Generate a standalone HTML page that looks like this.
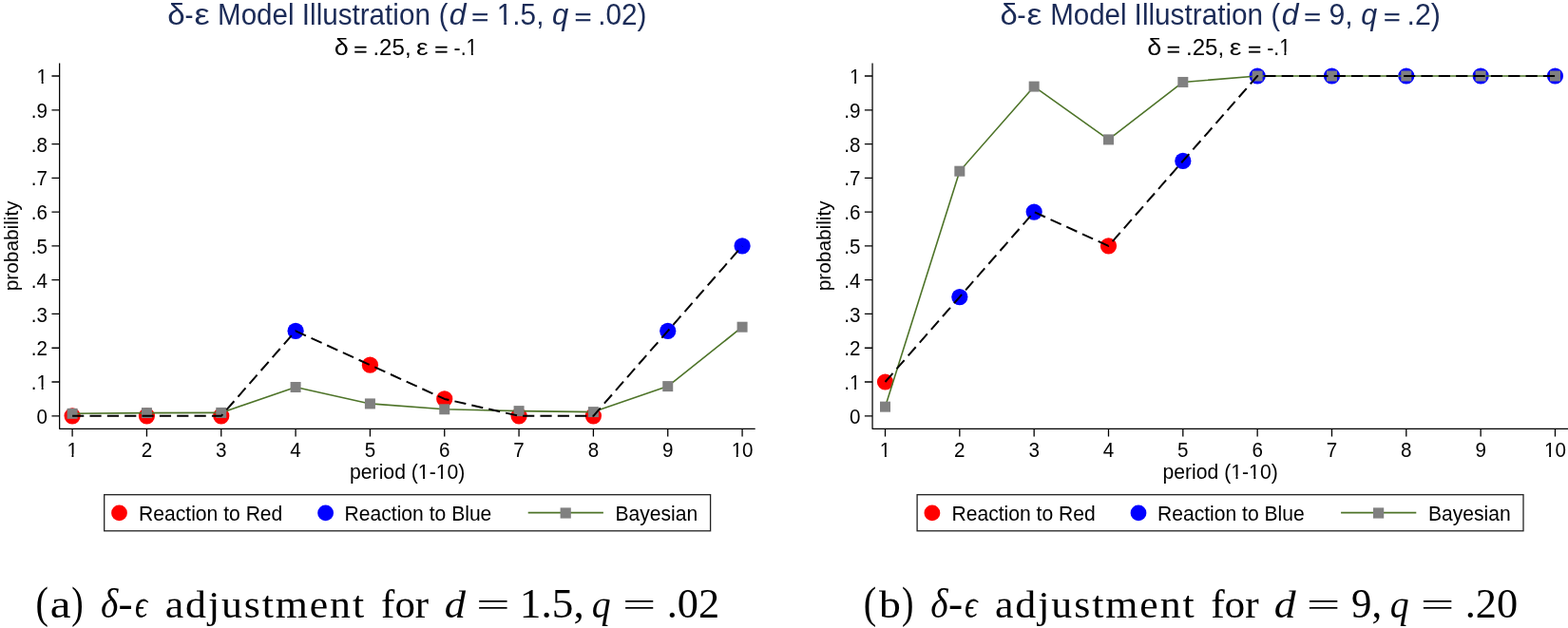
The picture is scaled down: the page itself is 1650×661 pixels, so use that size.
<!DOCTYPE html>
<html><head><meta charset="utf-8"><title>δ-ε Model Illustration</title><style>
html,body{margin:0;padding:0;background:#fff;}
svg{display:block;}
text{font-family:"Liberation Sans",sans-serif;fill:#000;}
.tk{font-size:20.6px;}
.at{font-size:21.2px;}
.pr{font-size:20.8px;}
.lg{font-size:21.1px;}
</style></head><body>
<svg width="1650" height="661" viewBox="0 0 1650 661">
<rect width="1650" height="661" fill="#fff"/>
<path d="M62.65 66.40V451.30H794.70" fill="none" stroke="#000" stroke-width="1.25" stroke-linejoin="round"/>
<path d="M54.45 437.80H62.65M54.45 402.02H62.65M54.45 366.24H62.65M54.45 330.46H62.65M54.45 294.68H62.65M54.45 258.90H62.65M54.45 223.12H62.65M54.45 187.34H62.65M54.45 151.56H62.65M54.45 115.78H62.65M54.45 80.00H62.65M76.10 451.30V459.50M154.43 451.30V459.50M232.76 451.30V459.50M311.09 451.30V459.50M389.42 451.30V459.50M467.75 451.30V459.50M546.08 451.30V459.50M624.41 451.30V459.50M702.74 451.30V459.50M781.07 451.30V459.50" fill="none" stroke="#000" stroke-width="1.3"/>
<text transform="translate(50.05 445.90) scale(1 1.09)" text-anchor="end" class="tk">0</text>
<text transform="translate(50.05 410.12) scale(1 1.09)" text-anchor="end" class="tk">.1</text>
<text transform="translate(50.05 374.34) scale(1 1.09)" text-anchor="end" class="tk">.2</text>
<text transform="translate(50.05 338.56) scale(1 1.09)" text-anchor="end" class="tk">.3</text>
<text transform="translate(50.05 302.78) scale(1 1.09)" text-anchor="end" class="tk">.4</text>
<text transform="translate(50.05 267.00) scale(1 1.09)" text-anchor="end" class="tk">.5</text>
<text transform="translate(50.05 231.22) scale(1 1.09)" text-anchor="end" class="tk">.6</text>
<text transform="translate(50.05 195.44) scale(1 1.09)" text-anchor="end" class="tk">.7</text>
<text transform="translate(50.05 159.66) scale(1 1.09)" text-anchor="end" class="tk">.8</text>
<text transform="translate(50.05 123.88) scale(1 1.09)" text-anchor="end" class="tk">.9</text>
<text transform="translate(50.05 88.10) scale(1 1.09)" text-anchor="end" class="tk">1</text>
<text transform="translate(76.10 480.80) scale(1 1.09)" text-anchor="middle" class="tk">1</text>
<text transform="translate(154.43 480.80) scale(1 1.09)" text-anchor="middle" class="tk">2</text>
<text transform="translate(232.76 480.80) scale(1 1.09)" text-anchor="middle" class="tk">3</text>
<text transform="translate(311.09 480.80) scale(1 1.09)" text-anchor="middle" class="tk">4</text>
<text transform="translate(389.42 480.80) scale(1 1.09)" text-anchor="middle" class="tk">5</text>
<text transform="translate(467.75 480.80) scale(1 1.09)" text-anchor="middle" class="tk">6</text>
<text transform="translate(546.08 480.80) scale(1 1.09)" text-anchor="middle" class="tk">7</text>
<text transform="translate(624.41 480.80) scale(1 1.09)" text-anchor="middle" class="tk">8</text>
<text transform="translate(702.74 480.80) scale(1 1.09)" text-anchor="middle" class="tk">9</text>
<text transform="translate(781.07 480.80) scale(1 1.09)" text-anchor="middle" class="tk">10</text>
<text transform="translate(428.68 503.70) scale(1 1.04)" text-anchor="middle" class="at">period (1-10)</text>
<text transform="translate(18.60 258.85) rotate(-90) scale(1 1.0)" text-anchor="middle" class="pr">probability</text>
<text transform="translate(176.29 26.10) scale(1.1071 1.02)" style="font-family:'Liberation Sans',sans-serif;font-size:30px;fill:#1b2b57;">δ</text>
<text transform="translate(194.50 26.10) scale(0.9000 1.02)" style="font-family:'Liberation Sans',sans-serif;font-size:30px;fill:#1b2b57;">-</text>
<text transform="translate(204.59 26.10) scale(1.2091 1.02)" style="font-family:'Liberation Sans',sans-serif;font-size:30px;fill:#1b2b57;">ε</text>
<text transform="translate(229.03 26.10) scale(0.9846 1.02)" style="font-family:'Liberation Sans',sans-serif;font-size:30px;fill:#1b2b57;">Model</text>
<text transform="translate(317.84 26.10) scale(0.9879 1.02)" style="font-family:'Liberation Sans',sans-serif;font-size:30px;fill:#1b2b57;">Illustration</text>
<text transform="translate(461.76 26.10) scale(0.9714 1.02)" style="font-family:'Liberation Sans',sans-serif;font-size:30px;fill:#1b2b57;">(</text>
<text transform="translate(472.84 26.10) scale(1.0625 1.02)" style="font-family:'Liberation Sans',sans-serif;font-size:30px;font-style:italic;fill:#1b2b57;">d</text>
<text transform="translate(496.17 26.20) scale(1.0333 0.795)" style="font-family:'Liberation Sans',sans-serif;font-size:30px;fill:#1b2b57;stroke:#1b2b57;stroke-width:0.4;">=</text>
<text transform="translate(522.82 26.10) scale(0.9911 1.02)" style="font-family:'Liberation Sans',sans-serif;font-size:30px;fill:#1b2b57;">1.5,</text>
<text transform="translate(580.97 26.10) scale(1.0333 1.02)" style="font-family:'Liberation Sans',sans-serif;font-size:30px;font-style:italic;fill:#1b2b57;">q</text>
<text transform="translate(604.57 26.20) scale(1.0333 0.795)" style="font-family:'Liberation Sans',sans-serif;font-size:30px;fill:#1b2b57;stroke:#1b2b57;stroke-width:0.4;">=</text>
<text transform="translate(629.23 26.10) scale(0.9915 1.02)" style="font-family:'Liberation Sans',sans-serif;font-size:30px;fill:#1b2b57;">.02)</text>
<text transform="translate(351.75 57.80) scale(1.1545 1.06)" style="font-family:'Liberation Sans',sans-serif;font-size:23.4px;">δ</text>
<text transform="translate(372.26 57.55) scale(1.0417 0.784)" style="font-family:'Liberation Sans',sans-serif;font-size:23.4px;stroke:#000;stroke-width:0.4;">=</text>
<text transform="translate(392.44 57.80) scale(1.0286 1.06)" style="font-family:'Liberation Sans',sans-serif;font-size:23.4px;">.25,</text>
<text transform="translate(438.09 57.80) scale(1.2111 1.06)" style="font-family:'Liberation Sans',sans-serif;font-size:23.4px;">ε</text>
<text transform="translate(457.36 57.55) scale(1.0417 0.784)" style="font-family:'Liberation Sans',sans-serif;font-size:23.4px;stroke:#000;stroke-width:0.4;">=</text>
<text transform="translate(477.59 57.80) scale(0.9080 1.06)" style="font-family:'Liberation Sans',sans-serif;font-size:23.4px;">-.1</text>
<circle cx="76.10" cy="437.80" r="8.6" fill="#ff0000"/>
<circle cx="154.43" cy="437.80" r="8.6" fill="#ff0000"/>
<circle cx="232.76" cy="437.80" r="8.6" fill="#ff0000"/>
<circle cx="311.09" cy="348.35" r="8.6" fill="#0000ff"/>
<circle cx="389.42" cy="384.13" r="8.6" fill="#ff0000"/>
<circle cx="467.75" cy="419.91" r="8.6" fill="#ff0000"/>
<circle cx="546.08" cy="437.80" r="8.6" fill="#ff0000"/>
<circle cx="624.41" cy="437.80" r="8.6" fill="#ff0000"/>
<circle cx="702.74" cy="348.35" r="8.6" fill="#0000ff"/>
<circle cx="781.07" cy="258.90" r="8.6" fill="#0000ff"/>
<polyline points="76.10,435.30 154.43,434.58 232.76,434.40 311.09,407.49 389.42,424.92 467.75,430.79 546.08,432.61 624.41,433.61 702.74,406.60 781.07,344.20" fill="none" stroke="#4e7429" stroke-width="1.6" stroke-linejoin="round"/>
<rect x="70.60" y="429.80" width="11.0" height="11.0" fill="#808080"/>
<rect x="148.93" y="429.08" width="11.0" height="11.0" fill="#808080"/>
<rect x="227.26" y="428.90" width="11.0" height="11.0" fill="#808080"/>
<rect x="305.59" y="401.99" width="11.0" height="11.0" fill="#808080"/>
<rect x="383.92" y="419.42" width="11.0" height="11.0" fill="#808080"/>
<rect x="462.25" y="425.29" width="11.0" height="11.0" fill="#808080"/>
<rect x="540.58" y="427.11" width="11.0" height="11.0" fill="#808080"/>
<rect x="618.91" y="428.11" width="11.0" height="11.0" fill="#808080"/>
<rect x="697.24" y="401.10" width="11.0" height="11.0" fill="#808080"/>
<rect x="775.57" y="338.70" width="11.0" height="11.0" fill="#808080"/>
<polyline points="76.10,437.80 154.43,437.80 232.76,437.80 311.09,348.35 389.42,384.13 467.75,419.91 546.08,437.80 624.41,437.80 702.74,348.35 781.07,258.90" fill="none" stroke="#000" stroke-width="2" stroke-dasharray="12.2 6.15" stroke-linejoin="round"/>
<rect x="109.70" y="520.7" width="637.90" height="38.10" fill="none" stroke="#222" stroke-width="1.3"/>
<circle cx="125.50" cy="539.9" r="8.4" fill="#ff0000"/>
<text transform="translate(146.10 547.80) scale(1 1.03)" class="lg">Reaction to Red</text>
<circle cx="342.60" cy="539.9" r="8.4" fill="#0000ff"/>
<text transform="translate(362.60 547.80) scale(1 1.03)" class="lg">Reaction to Blue</text>
<path d="M555.70 539.6H634.90" stroke="#4e7429" stroke-width="1.6"/>
<rect x="589.60" y="534.40" width="11.2" height="11.2" fill="#808080"/>
<text transform="translate(647.50 547.80) scale(1 1.03)" class="lg">Bayesian</text>
<text transform="translate(37.48 650.20) scale(0.8583 1.0)" style="font-family:'Liberation Serif',serif;font-size:47px;">(</text>
<text transform="translate(52.72 650.20) scale(1.1824 1.0)" style="font-family:'Liberation Serif',serif;font-size:41.5px;">a</text>
<text transform="translate(75.21 650.20) scale(0.7923 1.0)" style="font-family:'Liberation Serif',serif;font-size:47px;">)</text>
<text transform="translate(105.89 650.20) scale(0.9050 1.0)" style="font-family:'Liberation Serif',serif;font-size:43.5px;font-style:italic;">δ</text>
<text transform="translate(124.61 650.20) scale(1.0455 1.0)" style="font-family:'Liberation Serif',serif;font-size:43.5px;">-</text>
<text transform="translate(141.91 650.20) scale(0.7882 1.0)" style="font-family:'Liberation Serif',serif;font-size:41.5px;font-style:italic;">ϵ</text>
<text transform="translate(173.73 650.20) scale(1.0700 1.0)" style="font-family:'Liberation Serif',serif;font-size:41px;letter-spacing:1.76px;">adjustment</text>
<text transform="translate(401.08 650.20) scale(1.0229 1.0)" style="font-family:'Liberation Serif',serif;font-size:42px;">for</text>
<text transform="translate(467.72 650.20) scale(1.0842 1.0)" style="font-family:'Liberation Serif',serif;font-size:41px;font-style:italic;">d</text>
<text transform="translate(500.99 647.60) scale(1.4550 0.75)" style="font-family:'Liberation Serif',serif;font-size:43.5px;">=</text>
<text transform="translate(546.84 650.20) scale(1.0407 1.0)" style="font-family:'Liberation Serif',serif;font-size:43.5px;">1.5,</text>
<text transform="translate(622.84 650.20) scale(0.9579 1.0)" style="font-family:'Liberation Serif',serif;font-size:41.5px;font-style:italic;">q</text>
<text transform="translate(655.02 647.60) scale(1.4400 0.75)" style="font-family:'Liberation Serif',serif;font-size:43.5px;">=</text>
<text transform="translate(701.74 650.20) scale(1.0204 1.0)" style="font-family:'Liberation Serif',serif;font-size:43.5px;">.02</text>
<path d="M918.05 66.40V451.30H1650.10" fill="none" stroke="#000" stroke-width="1.25" stroke-linejoin="round"/>
<path d="M909.85 437.80H918.05M909.85 402.02H918.05M909.85 366.24H918.05M909.85 330.46H918.05M909.85 294.68H918.05M909.85 258.90H918.05M909.85 223.12H918.05M909.85 187.34H918.05M909.85 151.56H918.05M909.85 115.78H918.05M909.85 80.00H918.05M931.50 451.30V459.50M1009.83 451.30V459.50M1088.16 451.30V459.50M1166.49 451.30V459.50M1244.82 451.30V459.50M1323.15 451.30V459.50M1401.48 451.30V459.50M1479.81 451.30V459.50M1558.14 451.30V459.50M1636.47 451.30V459.50" fill="none" stroke="#000" stroke-width="1.3"/>
<text transform="translate(905.45 445.90) scale(1 1.09)" text-anchor="end" class="tk">0</text>
<text transform="translate(905.45 410.12) scale(1 1.09)" text-anchor="end" class="tk">.1</text>
<text transform="translate(905.45 374.34) scale(1 1.09)" text-anchor="end" class="tk">.2</text>
<text transform="translate(905.45 338.56) scale(1 1.09)" text-anchor="end" class="tk">.3</text>
<text transform="translate(905.45 302.78) scale(1 1.09)" text-anchor="end" class="tk">.4</text>
<text transform="translate(905.45 267.00) scale(1 1.09)" text-anchor="end" class="tk">.5</text>
<text transform="translate(905.45 231.22) scale(1 1.09)" text-anchor="end" class="tk">.6</text>
<text transform="translate(905.45 195.44) scale(1 1.09)" text-anchor="end" class="tk">.7</text>
<text transform="translate(905.45 159.66) scale(1 1.09)" text-anchor="end" class="tk">.8</text>
<text transform="translate(905.45 123.88) scale(1 1.09)" text-anchor="end" class="tk">.9</text>
<text transform="translate(905.45 88.10) scale(1 1.09)" text-anchor="end" class="tk">1</text>
<text transform="translate(931.50 480.80) scale(1 1.09)" text-anchor="middle" class="tk">1</text>
<text transform="translate(1009.83 480.80) scale(1 1.09)" text-anchor="middle" class="tk">2</text>
<text transform="translate(1088.16 480.80) scale(1 1.09)" text-anchor="middle" class="tk">3</text>
<text transform="translate(1166.49 480.80) scale(1 1.09)" text-anchor="middle" class="tk">4</text>
<text transform="translate(1244.82 480.80) scale(1 1.09)" text-anchor="middle" class="tk">5</text>
<text transform="translate(1323.15 480.80) scale(1 1.09)" text-anchor="middle" class="tk">6</text>
<text transform="translate(1401.48 480.80) scale(1 1.09)" text-anchor="middle" class="tk">7</text>
<text transform="translate(1479.81 480.80) scale(1 1.09)" text-anchor="middle" class="tk">8</text>
<text transform="translate(1558.14 480.80) scale(1 1.09)" text-anchor="middle" class="tk">9</text>
<text transform="translate(1636.47 480.80) scale(1 1.09)" text-anchor="middle" class="tk">10</text>
<text transform="translate(1284.08 503.70) scale(1 1.04)" text-anchor="middle" class="at">period (1-10)</text>
<text transform="translate(874.00 258.85) rotate(-90) scale(1 1.0)" text-anchor="middle" class="pr">probability</text>
<text transform="translate(1052.41 26.10) scale(1.0929 1.02)" style="font-family:'Liberation Sans',sans-serif;font-size:30px;fill:#1b2b57;">δ</text>
<text transform="translate(1070.26 26.10) scale(0.9375 1.02)" style="font-family:'Liberation Sans',sans-serif;font-size:30px;fill:#1b2b57;">-</text>
<text transform="translate(1080.61 26.10) scale(1.1909 1.02)" style="font-family:'Liberation Sans',sans-serif;font-size:30px;fill:#1b2b57;">ε</text>
<text transform="translate(1105.13 26.10) scale(0.9846 1.02)" style="font-family:'Liberation Sans',sans-serif;font-size:30px;fill:#1b2b57;">Model</text>
<text transform="translate(1193.62 26.10) scale(0.9917 1.02)" style="font-family:'Liberation Sans',sans-serif;font-size:30px;fill:#1b2b57;">Illustration</text>
<text transform="translate(1337.49 26.10) scale(0.9571 1.02)" style="font-family:'Liberation Sans',sans-serif;font-size:30px;fill:#1b2b57;">(</text>
<text transform="translate(1348.64 26.10) scale(1.0625 1.02)" style="font-family:'Liberation Sans',sans-serif;font-size:30px;font-style:italic;fill:#1b2b57;">d</text>
<text transform="translate(1372.29 26.20) scale(1.0133 0.795)" style="font-family:'Liberation Sans',sans-serif;font-size:30px;fill:#1b2b57;stroke:#1b2b57;stroke-width:0.4;">=</text>
<text transform="translate(1398.39 26.10) scale(1.0095 1.02)" style="font-family:'Liberation Sans',sans-serif;font-size:30px;fill:#1b2b57;">9,</text>
<text transform="translate(1432.29 26.10) scale(1.0133 1.02)" style="font-family:'Liberation Sans',sans-serif;font-size:30px;font-style:italic;fill:#1b2b57;">q</text>
<text transform="translate(1455.99 26.20) scale(1.0067 0.795)" style="font-family:'Liberation Sans',sans-serif;font-size:30px;fill:#1b2b57;stroke:#1b2b57;stroke-width:0.4;">=</text>
<text transform="translate(1480.57 26.10) scale(1.0100 1.02)" style="font-family:'Liberation Sans',sans-serif;font-size:30px;fill:#1b2b57;">.2)</text>
<text transform="translate(1207.35 57.80) scale(1.1545 1.06)" style="font-family:'Liberation Sans',sans-serif;font-size:23.4px;">δ</text>
<text transform="translate(1227.86 57.55) scale(1.0417 0.784)" style="font-family:'Liberation Sans',sans-serif;font-size:23.4px;stroke:#000;stroke-width:0.4;">=</text>
<text transform="translate(1248.04 57.80) scale(1.0286 1.06)" style="font-family:'Liberation Sans',sans-serif;font-size:23.4px;">.25,</text>
<text transform="translate(1293.69 57.80) scale(1.2111 1.06)" style="font-family:'Liberation Sans',sans-serif;font-size:23.4px;">ε</text>
<text transform="translate(1312.96 57.55) scale(1.0417 0.784)" style="font-family:'Liberation Sans',sans-serif;font-size:23.4px;stroke:#000;stroke-width:0.4;">=</text>
<text transform="translate(1333.19 57.80) scale(0.9080 1.06)" style="font-family:'Liberation Sans',sans-serif;font-size:23.4px;">-.1</text>
<circle cx="931.50" cy="402.02" r="8.6" fill="#ff0000"/>
<circle cx="1009.83" cy="312.57" r="8.6" fill="#0000ff"/>
<circle cx="1088.16" cy="223.12" r="8.6" fill="#0000ff"/>
<circle cx="1166.49" cy="258.90" r="8.6" fill="#ff0000"/>
<circle cx="1244.82" cy="169.45" r="8.6" fill="#0000ff"/>
<circle cx="1323.15" cy="80.00" r="8.6" fill="#0000ff"/>
<circle cx="1401.48" cy="80.00" r="8.6" fill="#0000ff"/>
<circle cx="1479.81" cy="80.00" r="8.6" fill="#0000ff"/>
<circle cx="1558.14" cy="80.00" r="8.6" fill="#0000ff"/>
<circle cx="1636.47" cy="80.00" r="8.6" fill="#0000ff"/>
<polyline points="931.50,428.14 1009.83,180.18 1088.16,91.09 1166.49,146.91 1244.82,86.44 1323.15,80.00 1401.48,80.00 1479.81,80.00 1558.14,80.00 1636.47,80.00" fill="none" stroke="#4e7429" stroke-width="1.6" stroke-linejoin="round"/>
<rect x="926.00" y="422.64" width="11.0" height="11.0" fill="#808080"/>
<rect x="1004.33" y="174.68" width="11.0" height="11.0" fill="#808080"/>
<rect x="1082.66" y="85.59" width="11.0" height="11.0" fill="#808080"/>
<rect x="1160.99" y="141.41" width="11.0" height="11.0" fill="#808080"/>
<rect x="1239.32" y="80.94" width="11.0" height="11.0" fill="#808080"/>
<rect x="1317.65" y="74.50" width="11.0" height="11.0" fill="#808080"/>
<rect x="1395.98" y="74.50" width="11.0" height="11.0" fill="#808080"/>
<rect x="1474.31" y="74.50" width="11.0" height="11.0" fill="#808080"/>
<rect x="1552.64" y="74.50" width="11.0" height="11.0" fill="#808080"/>
<rect x="1630.97" y="74.50" width="11.0" height="11.0" fill="#808080"/>
<polyline points="931.50,402.02 1009.83,312.57 1088.16,223.12 1166.49,258.90 1244.82,169.45 1323.15,80.00 1401.48,80.00 1479.81,80.00 1558.14,80.00 1636.47,80.00" fill="none" stroke="#000" stroke-width="2" stroke-dasharray="12.2 6.15" stroke-linejoin="round"/>
<rect x="965.10" y="520.7" width="637.90" height="38.10" fill="none" stroke="#222" stroke-width="1.3"/>
<circle cx="980.90" cy="539.9" r="8.4" fill="#ff0000"/>
<text transform="translate(1001.50 547.80) scale(1 1.03)" class="lg">Reaction to Red</text>
<circle cx="1198.00" cy="539.9" r="8.4" fill="#0000ff"/>
<text transform="translate(1218.00 547.80) scale(1 1.03)" class="lg">Reaction to Blue</text>
<path d="M1411.10 539.6H1490.30" stroke="#4e7429" stroke-width="1.6"/>
<rect x="1445.00" y="534.40" width="11.2" height="11.2" fill="#808080"/>
<text transform="translate(1502.90 547.80) scale(1 1.03)" class="lg">Bayesian</text>
<text transform="translate(908.78 650.20) scale(0.8583 1.0)" style="font-family:'Liberation Serif',serif;font-size:47px;">(</text>
<text transform="translate(925.00 650.20) scale(1.1158 1.0)" style="font-family:'Liberation Serif',serif;font-size:41px;">b</text>
<text transform="translate(949.11 650.20) scale(0.7923 1.0)" style="font-family:'Liberation Serif',serif;font-size:47px;">)</text>
<text transform="translate(979.30 650.20) scale(0.9050 1.0)" style="font-family:'Liberation Serif',serif;font-size:43.5px;font-style:italic;">δ</text>
<text transform="translate(998.11 650.20) scale(1.0455 1.0)" style="font-family:'Liberation Serif',serif;font-size:43.5px;">-</text>
<text transform="translate(1015.08 650.20) scale(0.8176 1.0)" style="font-family:'Liberation Serif',serif;font-size:41.5px;font-style:italic;">ϵ</text>
<text transform="translate(1046.93 650.20) scale(1.0700 1.0)" style="font-family:'Liberation Serif',serif;font-size:41px;letter-spacing:1.81px;">adjustment</text>
<text transform="translate(1274.17 650.20) scale(1.0333 1.0)" style="font-family:'Liberation Serif',serif;font-size:42px;">for</text>
<text transform="translate(1340.68 650.20) scale(1.1158 1.0)" style="font-family:'Liberation Serif',serif;font-size:41px;font-style:italic;">d</text>
<text transform="translate(1374.69 647.60) scale(1.4550 0.75)" style="font-family:'Liberation Serif',serif;font-size:43.5px;">=</text>
<text transform="translate(1422.02 650.20) scale(0.9828 1.0)" style="font-family:'Liberation Serif',serif;font-size:43.5px;">9,</text>
<text transform="translate(1462.64 650.20) scale(0.9579 1.0)" style="font-family:'Liberation Serif',serif;font-size:41.5px;font-style:italic;">q</text>
<text transform="translate(1494.69 647.60) scale(1.4550 0.75)" style="font-family:'Liberation Serif',serif;font-size:43.5px;">=</text>
<text transform="translate(1541.74 650.20) scale(1.0200 1.0)" style="font-family:'Liberation Serif',serif;font-size:43.5px;">.20</text>
<path fill="#fff" d="M39.25 411.21 L43.71 411.21 L43.71 407.03 L39.25 407.03ZM45.63 411.21 L49.93 411.21 L49.93 407.03 L45.63 407.03ZM39.26 89.19 L43.72 89.19 L43.72 85.01 L39.26 85.01ZM45.64 89.19 L49.94 89.19 L49.94 85.01 L45.64 85.01ZM71.04 481.89 L75.50 481.89 L75.50 477.71 L71.04 477.71ZM77.42 481.89 L81.72 481.89 L81.72 477.71 L77.42 477.71ZM770.29 481.89 L774.75 481.89 L774.75 477.71 L770.29 477.71ZM776.67 481.89 L780.97 481.89 L780.97 477.71 L776.67 477.71ZM440.58 504.74 L445.14 504.74 L445.14 500.70 L440.58 500.70ZM447.12 504.74 L451.52 504.74 L451.52 500.70 L447.12 500.70ZM459.40 504.74 L463.96 504.74 L463.96 500.70 L459.40 500.70ZM465.94 504.74 L470.34 504.74 L470.34 500.70 L465.94 500.70ZM524.19 27.12 L530.25 27.12 L530.25 22.49 L524.19 22.49ZM532.97 27.12 L538.80 27.12 L538.80 22.49 L532.97 22.49ZM491.36 58.86 L495.85 58.86 L495.85 54.57 L491.36 54.57ZM497.82 58.86 L502.15 58.86 L502.15 54.57 L497.82 54.57ZM894.65 411.21 L899.11 411.21 L899.11 407.03 L894.65 407.03ZM901.03 411.21 L905.33 411.21 L905.33 407.03 L901.03 407.03ZM894.66 89.19 L899.12 89.19 L899.12 85.01 L894.66 85.01ZM901.04 89.19 L905.34 89.19 L905.34 85.01 L901.04 85.01ZM926.44 481.89 L930.90 481.89 L930.90 477.71 L926.44 477.71ZM932.82 481.89 L937.12 481.89 L937.12 477.71 L932.82 477.71ZM1625.69 481.89 L1630.15 481.89 L1630.15 477.71 L1625.69 477.71ZM1632.07 481.89 L1636.37 481.89 L1636.37 477.71 L1632.07 477.71ZM1295.98 504.74 L1300.54 504.74 L1300.54 500.70 L1295.98 500.70ZM1302.52 504.74 L1306.92 504.74 L1306.92 500.70 L1302.52 500.70ZM1314.80 504.74 L1319.36 504.74 L1319.36 500.70 L1314.80 500.70ZM1321.34 504.74 L1325.74 504.74 L1325.74 500.70 L1321.34 500.70ZM1346.96 58.86 L1351.45 58.86 L1351.45 54.57 L1346.96 54.57ZM1353.42 58.86 L1357.75 58.86 L1357.75 54.57 L1353.42 54.57Z"/>
</svg>
</body></html>
